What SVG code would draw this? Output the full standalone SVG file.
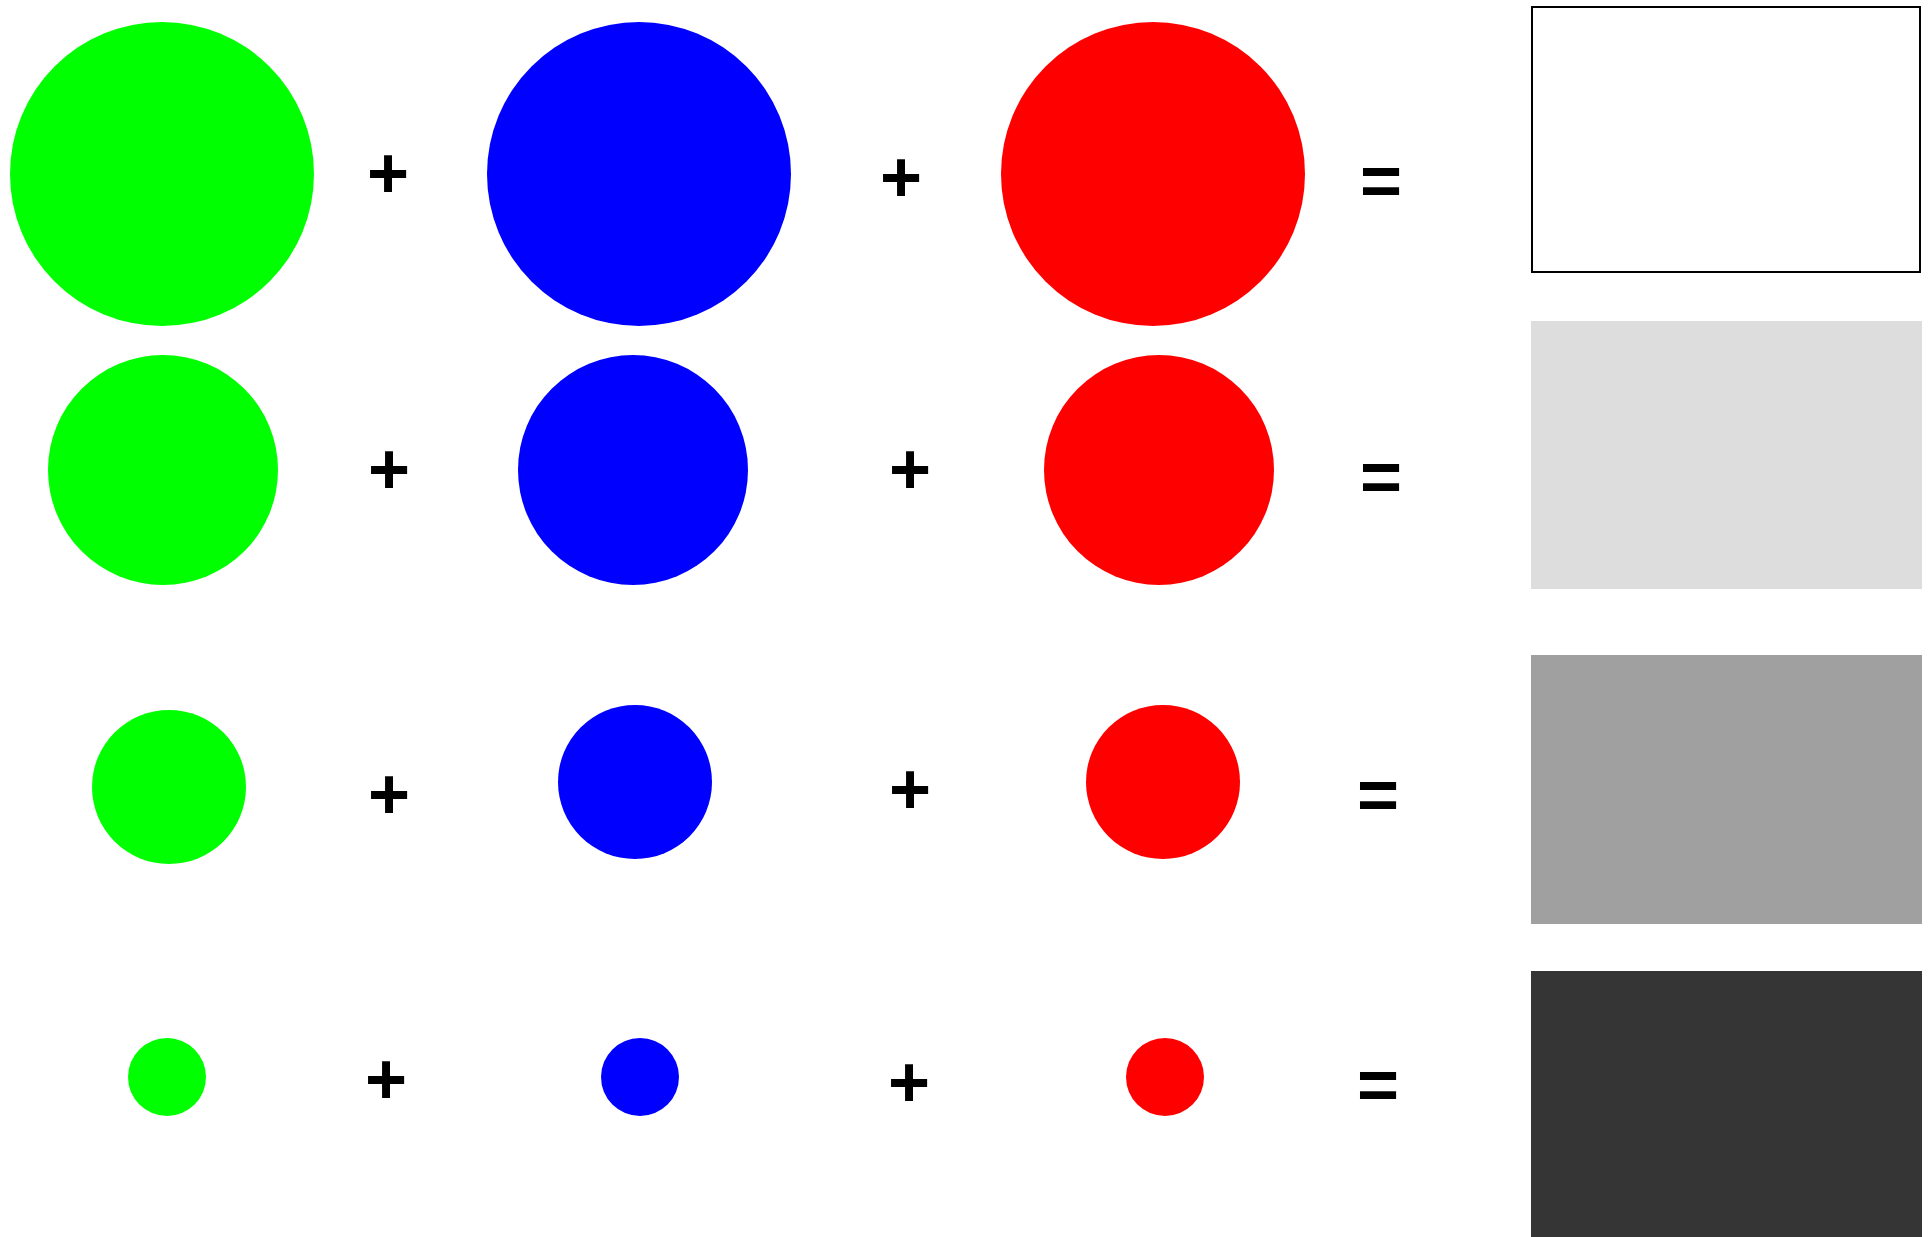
<svg xmlns="http://www.w3.org/2000/svg" width="1928" height="1237" viewBox="0 0 1928 1237">
<style>
.g{fill:#00ff00}.b{fill:#0000ff}.r{fill:#ff0000}
.op{font-family:"Liberation Sans",Arial,sans-serif;font-weight:bold;font-size:72px;text-anchor:middle;fill:#000}
</style>
<rect width="1928" height="1237" fill="#fff"/>
<g id="row1">
<circle id="g1" class="g" cx="162" cy="174" r="152"/>
<text class="op" x="388" y="198">+</text>
<circle id="b1" class="b" cx="639" cy="174" r="152"/>
<text class="op" x="901" y="202">+</text>
<circle id="r1" class="r" cx="1153" cy="174" r="152"/>
<text class="op" x="1381" y="205">=</text>
<rect id="res1" x="1532" y="7" width="388" height="265" fill="#fff" stroke="#000" stroke-width="2"/>
</g>
<g id="row2">
<circle id="g2" class="g" cx="163" cy="470" r="115"/>
<text class="op" x="389" y="494">+</text>
<circle id="b2" class="b" cx="633" cy="470" r="115"/>
<text class="op" x="910" y="494">+</text>
<circle id="r2" class="r" cx="1159" cy="470" r="115"/>
<text class="op" x="1381" y="501">=</text>
<rect id="res2" x="1531" y="321" width="391" height="268" fill="#dddddd"/>
</g>
<g id="row3">
<circle id="g3" class="g" cx="169" cy="787" r="77"/>
<text class="op" x="389" y="819">+</text>
<circle id="b3" class="b" cx="635" cy="782" r="77"/>
<text class="op" x="910" y="814">+</text>
<circle id="r3" class="r" cx="1163" cy="782" r="77"/>
<text class="op" x="1378" y="819">=</text>
<rect id="res3" x="1531" y="655" width="391" height="269" fill="#a0a0a0"/>
</g>
<g id="row4">
<circle id="g4" class="g" cx="167" cy="1077" r="39"/>
<text class="op" x="386" y="1104">+</text>
<circle id="b4" class="b" cx="640" cy="1077" r="39"/>
<text class="op" x="909" y="1107">+</text>
<circle id="r4" class="r" cx="1165" cy="1077" r="39"/>
<text class="op" x="1378" y="1109">=</text>
<rect id="res4" x="1531" y="971" width="391" height="266" fill="#353535"/>
</g>
<g id="connectors"></g>
</svg>
